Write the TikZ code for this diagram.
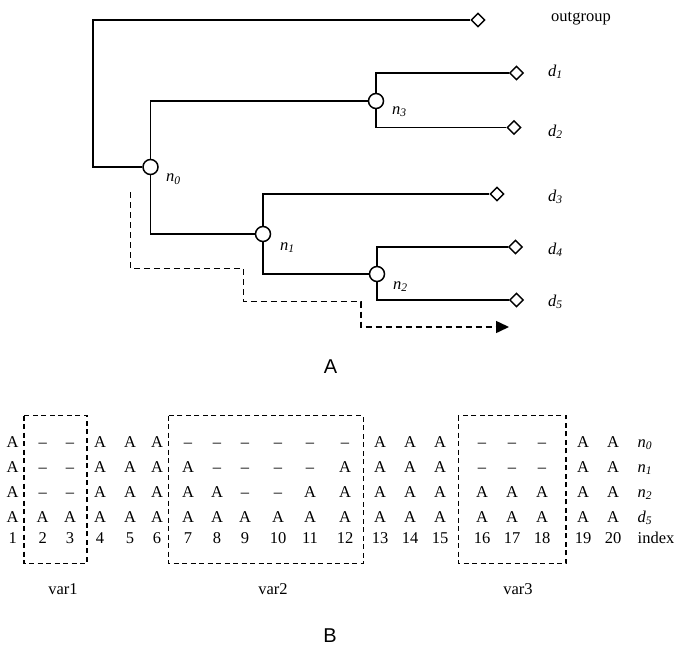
\documentclass[tikz,border=0pt]{standalone}
\usepackage{fontspec}
\setmainfont{Liberation Serif}
\newfontfamily\panelfont{Liberation Sans}
\usetikzlibrary{shapes.geometric,arrows.meta}
\newcommand{\sublab}[2]{\textit{#1}\textsubscript{\textit{#2}}}
\def\colpos{{12.7,42.7,70,100,130,157,188,217,245,278,310,345,380,410,440,482,512,542,583,613}}

\begin{document}
\begin{tikzpicture}[
                x=1pt, y=-1pt,
                font=\fontsize{16.5}{19}\selectfont,
                branch/.style={line width=1.6pt},
                anc/.style={circle, draw, line width=1.5pt, fill=white, minimum size=15pt, inner sep=0pt},
                leaf/.style={diamond, draw, line width=1.4pt, fill=white, minimum width=14pt, minimum height=14pt, inner sep=0pt},
                walk/.style={line width=1.5pt, dash pattern=on 6pt off 4pt, -{Triangle[length=13pt,width=12pt]}},
                varbox/.style={line width=1.5pt, dash pattern=on 5pt off 3.5pt},
                lbl/.style={anchor=base west, inner sep=0pt},
                cell/.style={anchor=base, inner sep=0pt},
                panel/.style={font=\panelfont\fontsize{20}{24}\selectfont}
            ]
                \useasboundingbox (0,0) rectangle (685,661);

                \coordinate (root) at (93,20);
                \node[anc] (n0) at (150.5,167) {};
                \node[anc] (n1) at (263,234) {};
                \node[anc] (n2) at (377,274) {};
                \node[anc] (n3) at (376,101) {};
                \node[leaf] (og) at (478,20) {};
                \node[leaf] (d1) at (516.5,73) {};
                \node[leaf] (d2) at (514,127.5) {};
                \node[leaf] (d3) at (497,194) {};
                \node[leaf] (d4) at (515.5,247) {};
                \node[leaf] (d5) at (516.5,300) {};

                \draw[branch] (n0.west) -| (root) -- (og.west);
                \draw[branch] (n0.north) |- (n3.west);
                \draw[branch] (n0.south) |- (n1.west);
                \draw[branch] (n3.north) |- (d1.west);
                \draw[branch] (n3.south) |- (d2.west);
                \draw[branch] (n1.north) |- (d3.west);
                \draw[branch] (n1.south) |- (n2.west);
                \draw[branch] (n2.north) |- (d4.west);
                \draw[branch] (n2.south) |- (d5.west);

                \node[lbl] (l-n0) at (166,181.5) {\sublab{n}{0}};
                \node[lbl] (l-n1) at (280,250) {\sublab{n}{1}};
                \node[lbl] (l-n3) at (392,114) {\sublab{n}{3}};
                \node[lbl] (l-n2) at (393,289) {\sublab{n}{2}};
                \node[lbl] (l-og) at (551,22) {outgroup};
                \node[lbl] (l-d1) at (548,76) {\sublab{d}{1}};
                \node[lbl] (l-d2) at (548,136) {\sublab{d}{2}};
                \node[lbl] (l-d3) at (548,201) {\sublab{d}{3}};
                \node[lbl] (l-d4) at (548,254) {\sublab{d}{4}};
                \node[lbl] (l-d5) at (548,306) {\sublab{d}{5}};

                \coordinate (w0) at (130.5,192);
                \coordinate (w1) at (509,327);
                \draw[walk] (w0) |- (243.3,268.3) |- (361,301.7) |- (w1);

                \node[panel] (pa) at (330.5,367) {A};

                \draw[varbox] (24,415.5) rectangle (87,563.3);
                \draw[varbox] (168.3,415.5) rectangle (363.3,563.3);
                \draw[varbox] (458.3,415.5) rectangle (566,563.3);

                \foreach \cells/\yy/\nm [count=\r] in {
                    {A,--,--,A,A,A,--,--,--,--,--,--,A,A,A,--,--,--,A,A}/447/\sublab{n}{0},
                    {A,--,--,A,A,A,A,--,--,--,--,A,A,A,A,--,--,--,A,A}/472/\sublab{n}{1},
                    {A,--,--,A,A,A,A,A,--,--,A,A,A,A,A,A,A,A,A,A}/497/\sublab{n}{2},
                    {A,A,A,A,A,A,A,A,A,A,A,A,A,A,A,A,A,A,A,A}/522/\sublab{d}{5},
                    {1,2,3,4,5,6,7,8,9,10,11,12,13,14,15,16,17,18,19,20}/543/index}
                {
                    \foreach \v [count=\i] in \cells {
                        \pgfmathsetmacro\xx{\colpos[\i-1]}
                        \node[cell] (c-\r-\i) at (\xx,\yy) {\v};
                    }
                    \node[lbl] (r-\r) at (637.5,\yy) {\nm};
                }

                \node (v1) at (63,589) {var1};
                \node (v2) at (273,589) {var2};
                \node (v3) at (518,589) {var3};

                \node[panel] (pb) at (330,636) {B};
            \end{tikzpicture}
\end{document}
